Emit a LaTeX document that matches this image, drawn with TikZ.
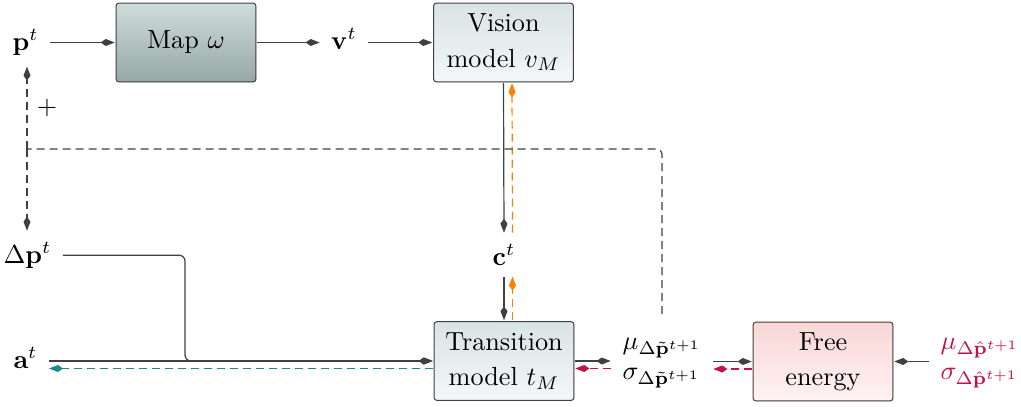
\documentclass[tikz,border=0pt]{standalone}
\usetikzlibrary{arrows.meta,shadows,calc}
\definecolor{ln}{HTML}{404040}
\definecolor{mapTop}{HTML}{CFDCDA}
\definecolor{mapBot}{HTML}{96A8A4}
\definecolor{visTop}{HTML}{D8E4E3}
\definecolor{visBot}{HTML}{F3F7F7}
\definecolor{feTop}{HTML}{F9D6D6}
\definecolor{feBot}{HTML}{FFF3F3}
\definecolor{feBorder}{HTML}{503C3C}
\definecolor{orng}{HTML}{FF8000}
\definecolor{tealc}{HTML}{1B8A8A}
\definecolor{crim}{HTML}{C4123F}
\begin{document}
\begin{tikzpicture}[x=1pt,y=-1pt,
  box/.style={scale=2.62, draw=ln, line width=1pt, rounded corners=3pt, minimum width=53.4pt,
    minimum height=30.1pt, align=center, inner sep=1pt, font=\fontsize{10}{13.4}\selectfont,
    drop shadow={shadow xshift=0.5pt, shadow yshift=-0.5pt, opacity=0.35, fill=black!60}},
  lbl/.style={scale=2.62, inner sep=4.2pt, anchor=base},
  twol/.style={scale=2.62, inner sep=4.4pt, align=left, font=\fontsize{10}{11.45}\selectfont},
  arr/.style={draw=ln, line width=1.2pt, -{Kite[length=14pt,width=7pt,inset=5pt]}},
  dsh/.style={dash pattern=on 8pt off 5pt},
]
\useasboundingbox (0,0) rectangle (1021,407);

% boxes
\node[box, top color=mapTop, bottom color=mapBot] (map) at (186,42.5) {Map $\omega$};
\node[box, top color=visTop, bottom color=visBot] (vm) at (503.5,42.5) {Vision\\model $v_M$};
\node[box, top color=visTop, bottom color=visBot] (tm) at (504,361) {Transition\\model $t_M$};
\node[box, draw=feBorder, top color=feTop, bottom color=feBot] (fe) at (823,361.5) {Free\\energy};

% labels
\node[lbl] (p) at (25.5,50) {$\mathbf{p}^t$};
\node[lbl] (v) at (344,49) {$\mathbf{v}^t$};
\node[lbl] (dp) at (27.5,263) {$\Delta\mathbf{p}^t$};
\node[lbl] (c) at (504,265) {$\mathbf{c}^t$};
\node[lbl] (a) at (25.5,368) {$\mathbf{a}^t$};
\node[scale=2.62] (plus) at (47,108) {$+$};
\node[twol] (ms) at (662,363)
  {$\mu_{\Delta\tilde{\mathbf{p}}^{t+1}}$\\$\sigma_{\Delta\tilde{\mathbf{p}}^{t+1}}$};
\node[twol, text=crim] (rl) at (980,363)
  {$\mu_{\Delta\hat{\mathbf{p}}^{t+1}}$\\$\sigma_{\Delta\hat{\mathbf{p}}^{t+1}}$};

% top row
\draw[arr] (p.east |- map.west) -- (map.west);
\draw[arr] (map.east) -- (v.west |- map.east);
\draw[arr] (v.east |- vm.west) -- (vm.west);

% vertical middle
\draw[arr] (vm.south) -- (c.north);
\draw[arr] (c.south) -- (tm.north);
\draw[arr, draw=orng, dsh] ([xshift=8.5pt]c.north) -- ([xshift=8.5pt]vm.south);
\draw[arr, draw=orng, dsh] ([xshift=8.5pt]tm.north) -- ([xshift=8.5pt]c.south);

% left inputs
\coordinate (bend) at (185,361);
\draw[arr] (a.east |- tm.west) -- (tm.west);
\draw[arr, rounded corners=6pt] (dp.east) -| (bend) -- (tm.west);
\coordinate (tmw) at ([yshift=-7.5pt]tm.west);
\draw[arr, draw=tealc, dsh] (tmw) -- (tmw -| a.east);

% dashed feedback
\coordinate (j) at (27,149);
\draw[draw=ln, line width=1.2pt, dsh, rounded corners=5pt, shorten <=12pt] (ms.north) |- (j);
\draw[arr, dsh] (j) -- (j |- p.south);
\draw[arr, dsh] (j) -- (j |- dp.north);

% right part
\draw[arr] (tm.east) -- (tm.east -| ms.west);
\coordinate (tme) at ([yshift=-7.5pt]tm.east);
\draw[arr, draw=crim, dsh] (tme -| ms.west) -- (tme);
\draw[arr] (ms.east |- fe.west) -- (fe.west);
\coordinate (few) at ([yshift=-7.5pt]fe.west);
\draw[arr, draw=crim, dsh] (few) -- (few -| ms.east);
\draw[arr] (rl.west |- fe.east) -- (fe.east);
\end{tikzpicture}
\end{document}
